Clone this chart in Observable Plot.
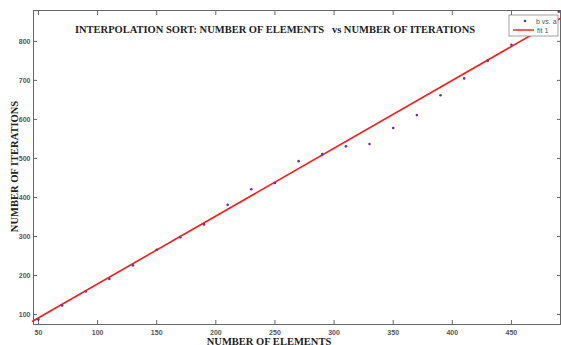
<!DOCTYPE html>
<html>
<head>
<meta charset="utf-8">
<script src="https://cdn.jsdelivr.net/npm/d3@7"></script>
<script src="https://cdn.jsdelivr.net/npm/@observablehq/plot@0.6"></script>
<style>
  html, body { margin: 0; padding: 0; background: #fff; }
  #chart svg { display: block; }
</style>
</head>
<body>
<div id="chart"></div>
<script>
const elements = [50, 70, 90, 110, 130, 150, 170, 190, 210, 230, 250, 270, 290, 310, 330, 350, 370, 390, 410, 430, 450, 470, 490];
const iterations = [87, 123, 159, 191, 226, 266, 298, 331, 381, 421, 437, 493, 511, 531, 537, 578, 611, 662, 705, 750, 791, 830, 876];
const fitX = [45, 492];
const fitY = [83, 860];
const xTicks = [50, 100, 150, 200, 250, 300, 350, 400, 450];
const yTicks = [100, 200, 300, 400, 500, 600, 700, 800];
const title = "INTERPOLATION SORT: NUMBER OF ELEMENTS   vs NUMBER OF ITERATIONS";
const xLabel = "NUMBER OF ELEMENTS";
const yLabel = "NUMBER OF ITERATIONS";
const legendItems = ["b vs. a", "fit 1"];

const points = elements.map((a, i) => ({a, b: iterations[i]}));
const fit = fitX.map((a, i) => ({a, b: fitY[i]}));

const tickFont = {fontSize: 7, fontWeight: "bold", fill: "#555", fontFamily: "Liberation Sans, Arial, sans-serif"};

const plot = Plot.plot({
  width: 561,
  height: 345,
  marginLeft: 33,
  marginRight: 1,
  marginTop: 10,
  marginBottom: 21,
  style: {fontFamily: "Liberation Sans, Arial, sans-serif", background: "#fff"},
  x: {domain: [45.8, 491.5], label: null},
  y: {domain: [74.5, 879], label: null},
  marks: [
    Plot.frame({stroke: "#666", strokeWidth: 1}),
    Plot.axisX(xTicks, {anchor: "bottom", label: null, tickSize: -4, tickPadding: 10, stroke: "#666", ...tickFont}),
    Plot.axisX(xTicks, {anchor: "top", label: null, tickSize: -4, tickFormat: () => "", stroke: "#666"}),
    Plot.axisY(yTicks, {anchor: "left", label: null, tickSize: -4, tickPadding: 7, stroke: "#666", ...tickFont}),
    Plot.axisY(yTicks, {anchor: "right", label: null, tickSize: -4, tickFormat: () => "", stroke: "#666"}),
    Plot.line(fit, {x: "a", y: "b", stroke: "#ff1a1a", strokeWidth: 1.6}),
    Plot.dot(points, {x: "a", y: "b", r: 1.3, fill: "#6a2fb0", stroke: "none"}),
    Plot.text([title], {frameAnchor: "top", dy: 15, dx: -22, fontSize: 10.5, fontWeight: "bold", fill: "#222", fontFamily: "Liberation Serif, Times New Roman, serif"}),
    Plot.text([xLabel], {frameAnchor: "bottom", dy: 20, dx: -28, fontSize: 10.5, fontWeight: "bold", fill: "#222", fontFamily: "Liberation Serif, Times New Roman, serif"}),
    Plot.text([yLabel], {frameAnchor: "left", textAnchor: "middle", lineAnchor: "middle", dx: -19, dy: -1, rotate: -90, fontSize: 10.5, fontWeight: "bold", fill: "#222", fontFamily: "Liberation Serif, Times New Roman, serif"})
  ]
});

document.getElementById("chart").appendChild(plot);

// legend box (top-right, inside the frame)
const svg = d3.select(plot);
const lg = svg.append("g").attr("transform", "translate(509,15)").attr("font-family", "Liberation Sans, Arial, sans-serif").attr("text-anchor", "start");
lg.append("rect").attr("x", 0).attr("y", 0).attr("width", 49).attr("height", 21).attr("fill", "#fff").attr("stroke", "#888").attr("stroke-width", 0.8);
lg.append("circle").attr("cx", 16).attr("cy", 6).attr("r", 1.3).attr("fill", "#6a2fb0");
lg.append("text").attr("x", 27).attr("y", 8.5).attr("font-size", 7).attr("fill", "#555").text(legendItems[0]);
lg.append("line").attr("x1", 4).attr("x2", 25).attr("y1", 15).attr("y2", 15).attr("stroke", "#ff1a1a").attr("stroke-width", 1.4);
lg.append("text").attr("x", 28).attr("y", 17.5).attr("font-size", 7).attr("fill", "#555").text(legendItems[1]);
</script>
</body>
</html>
